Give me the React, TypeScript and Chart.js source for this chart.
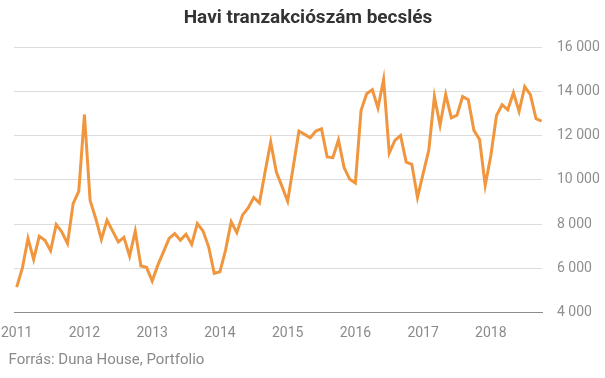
import React, { useEffect, useRef } from "react";
import { Chart, registerables } from "chart.js";

Chart.register(...registerables);

const title = "Havi tranzakciószám becslés";
const source = "Forrás: Duna House, Portfolio";
const yearLabels = ["2011", "2012", "2013", "2014", "2015", "2016", "2017", "2018"];
const yTicks = [4000, 6000, 8000, 10000, 12000, 14000, 16000];

// Monthly values, Jan 2011 – Oct 2018
const y2011 = [5150, 6000, 7350, 6400, 7450, 7270, 6790, 7980, 7640, 7120, 8920, 9490];
const y2012 = [12950, 9070, 8250, 7300, 8170, 7680, 7190, 7400, 6550, 7680, 6100, 6040];
const y2013 = [5420, 6140, 6740, 7350, 7570, 7270, 7540, 7080, 8020, 7690, 6970, 5770];
const y2014 = [5840, 6820, 8100, 7610, 8400, 8730, 9200, 8950, 10350, 11700, 10350, 9700];
const y2015 = [9030, 10600, 12200, 12050, 11900, 12200, 12300, 11030, 11000, 11800, 10550, 10020];
const y2016 = [9850, 13130, 13890, 14070, 13250, 14530, 11210, 11780, 12000, 10800, 10700, 9200];
const y2017 = [10280, 11330, 13760, 12460, 13850, 12800, 12920, 13760, 13620, 12230, 11820, 9750];
const y2018 = [11100, 12900, 13390, 13160, 13930, 13090, 14210, 13850, 12760, 12650];

const values = [...y2011, ...y2012, ...y2013, ...y2014, ...y2015, ...y2016, ...y2017, ...y2018];

const fmt = (v: number) => String(v).replace(/\B(?=(\d{3})+(?!\d))/g, " ");

export default function App() {
  const ref = useRef<HTMLCanvasElement | null>(null);

  useEffect(() => {
    if (!ref.current) return;
    const chart = new Chart(ref.current, {
      type: "line",
      data: {
        datasets: [
          {
            data: values.map((v, i) => ({ x: i, y: v })),
            borderColor: "#f0963f",
            backgroundColor: "#f0963f",
            borderWidth: 3,
            pointRadius: 0,
            tension: 0,
            fill: false,
          },
        ],
      },
      options: {
        animation: false,
        responsive: false,
        maintainAspectRatio: false,
        layout: { padding: { top: 47, left: 14, right: 0, bottom: 35.5 } },
        plugins: {
          legend: { display: false },
          tooltip: { enabled: false },
          title: { display: false },
        },
        scales: {
          x: {
            type: "linear",
            min: -0.48,
            max: 93.06,
            grid: { display: false, drawTicks: false },
            border: { display: true, color: "#8c8c8c", width: 1 },
            afterBuildTicks: (scale: any) => {
              scale.ticks = yearLabels.map((_, i) => ({ value: i * 12 }));
            },
            afterFit: (scale: any) => {
              scale.height = 30;
              scale.paddingLeft = 0;
              scale.paddingRight = 0;
            },
            ticks: {
              padding: 13,
              maxRotation: 0,
              autoSkip: false,
              color: "#8a8a8a",
              font: { family: "Roboto", size: 14 },
              callback: (v: any) => yearLabels[Math.round(Number(v) / 12)] ?? "",
            },
          },
          y: {
            position: "right",
            min: 4000,
            max: 16000,
            afterBuildTicks: (scale: any) => {
              scale.ticks = yTicks.map((v) => ({ value: v }));
            },
            afterFit: (scale: any) => {
              scale.width = 63;
            },
            grid: {
              drawTicks: false,
              color: (ctx: any) => (ctx.tick && ctx.tick.value === 4000 ? "#8c8c8c" : "#dcdcdc"),
              lineWidth: 1,
            },
            border: { display: false },
            ticks: {
              padding: 15,
              color: "#8f8f8f",
              font: { family: "Roboto", size: 14 },
              callback: (v: any) => fmt(Number(v)),
            },
          },
        },
      },
    });
    return () => chart.destroy();
  }, []);

  return (
    <div style={{ position: "fixed", left: 0, top: 0, width: 605, height: 378, background: "#fff", fontFamily: "Roboto" }}>
      <canvas ref={ref} width={605} height={378} style={{ position: "absolute", left: 0, top: 0, width: 605, height: 378 }} />
      <div
        style={{
          position: "absolute",
          top: 6,
          left: 5.5,
          width: 605,
          textAlign: "center",
          fontSize: 19,
          lineHeight: "22px",
          fontWeight: 700,
          color: "#333",
          whiteSpace: "nowrap",
        }}
      >
        {title}
      </div>
      <div
        style={{
          position: "absolute",
          top: 350,
          left: 8.5,
          fontSize: 15,
          lineHeight: "18px",
          color: "#8a8a8a",
          whiteSpace: "nowrap",
        }}
      >
        {source}
      </div>
    </div>
  );
}
